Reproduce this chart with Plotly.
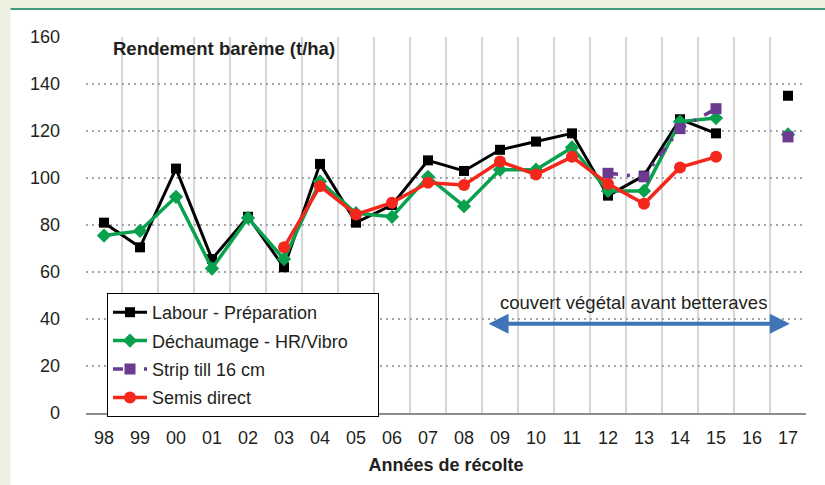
import plotly.graph_objects as go

years = ["98", "99", "00", "01", "02", "03", "04", "05", "06", "07",
         "08", "09", "10", "11", "12", "13", "14", "15", "16", "17"]

labour = [81, 70.5, 104, 65.5, 83.5, 62, 106, 81, 88.5, 107.5,
          103, 112, 115.5, 119, 92.5, 101, 125, 119, None, 135]
dechaumage = [75.5, 77.5, 92, 61.5, 83, 65.5, 98.5, 85, 83.5, 100.5,
              88, 103.5, 103.5, 113, 94.5, 94.5, 124, 125.5, None, 118.5]
strip_till = [None, None, None, None, None, None, None, None, None, None,
              None, None, None, None, 102, 100.5, 121, 129.5, None, 117.5]
semis_direct = [None, None, None, None, None, 70.5, 96.5, 84.5, 89.5, 98,
                97, 107, 101.5, 109, 97.5, 89, 104.5, 109, None, None]

y_ticks = [0, 20, 40, 60, 80, 100, 120, 140, 160]

FONT = "Liberation Sans, Arial, sans-serif"
TXT = "#231f20"
xs = list(range(len(years)))

fig = go.Figure()
fig.add_trace(go.Scatter(
    x=xs, y=labour, name="Labour - Préparation", mode="lines+markers",
    line=dict(color="#000000", width=3),
    marker=dict(symbol="square", size=10, color="#000000"),
    legendgroup="a"))
fig.add_trace(go.Scatter(
    x=xs, y=dechaumage, name="Déchaumage - HR/Vibro\u00a0\u00a0\u00a0\u00a0\u00a0", mode="lines+markers",
    line=dict(color="#0aa14e", width=3.5),
    marker=dict(symbol="diamond", size=11, color="#0aa14e"),
    legendgroup="b"))
fig.add_trace(go.Scatter(
    x=xs, y=strip_till, name="Strip till 16 cm", mode="lines+markers",
    line=dict(color="#6b3a91", width=3.5, dash="10px,9px,3px,9px"),
    marker=dict(symbol="square", size=11, color="#6b3a91"),
    legendgroup="c"))
fig.add_trace(go.Scatter(
    x=xs, y=semis_direct, name="Semis direct", mode="lines+markers",
    line=dict(color="#f4271c", width=3.5),
    marker=dict(symbol="circle", size=12, color="#f4271c"),
    legendgroup="d"))

L, R, T, B = 86, 19, 37, 72
W, H = 825, 485
pw, ph = W - L - R, H - T - B

def px(xp):
    return (xp - L) / pw

def py(yp):
    return (H - B - yp) / ph

shapes = [
    dict(type="rect", xref="paper", yref="paper", x0=px(0), x1=px(W), y0=py(9), y1=py(0),
         fillcolor="#eef1df", line=dict(width=0), layer="below"),
    dict(type="rect", xref="paper", yref="paper", x0=px(0), x1=px(10.5), y0=py(H), y1=py(0),
         fillcolor="#eef1df", line=dict(width=0), layer="below"),
    dict(type="line", xref="paper", yref="paper", x0=px(10.5), x1=px(W), y0=py(9), y1=py(9),
         line=dict(color="#3f9b7b", width=2)),
    dict(type="rect", xref="paper", yref="paper", x0=px(95), x1=px(755), y0=py(65), y1=py(35),
         fillcolor="white", line=dict(width=0), layer="between"),
]

annotations = [
    dict(text="<b>Rendement barème (t/ha)</b>", xref="paper", yref="paper",
         x=px(111), y=py(48), xanchor="left", yanchor="middle", showarrow=False,
         font=dict(family=FONT, size=18.5, color=TXT)),
    dict(text="couvert végétal avant betteraves", xref="x", yref="y",
         x=14.7, y=47.2, xanchor="center", yanchor="middle", showarrow=False,
         font=dict(family=FONT, size=18.5, color=TXT)),
    dict(text="", x=19.05, y=38, ax=10.64, ay=38, xref="x", yref="y",
         axref="x", ayref="y", showarrow=True, arrowhead=2, startarrowhead=2,
         arrowside="end+start", arrowwidth=4, arrowsize=1, startarrowsize=1,
         arrowcolor="#3f74b6", standoff=0, startstandoff=0),
]

fig.update_layout(
    width=W, height=H,
    margin=dict(l=L, r=R, t=T, b=B, autoexpand=False),
    paper_bgcolor="white", plot_bgcolor="white",
    font=dict(family=FONT, size=18, color=TXT),
    shapes=shapes, annotations=annotations,
    showlegend=True,
    legend=dict(x=px(107), y=py(293), xanchor="left", yanchor="top",
                bgcolor="white", bordercolor="#000000", borderwidth=1,
                font=dict(family=FONT, size=18, color=TXT),
                traceorder="grouped", tracegroupgap=2, itemwidth=34),
    xaxis=dict(range=[-0.5, 19.5], tickmode="array", tickvals=xs, ticktext=years,
               showgrid=False, zeroline=False, showline=True, automargin=False,
               linecolor="#8c8c8c", linewidth=1.5, ticks="",
               ticklabelstandoff=8,
               minor=dict(tickmode="array", tickvals=[i + 0.5 for i in range(19)],
                          showgrid=True, gridcolor="#d6d6d6", gridwidth=1.5),
               title=dict(text="<b>Années de récolte</b>", standoff=11,
                          font=dict(family=FONT, size=18, color=TXT)),
               fixedrange=True),
    yaxis=dict(range=[0, 160], tickmode="array", tickvals=y_ticks, automargin=False,
               showgrid=True, gridcolor="#a6a6a6", gridwidth=1.5, griddash="2px,4px",
               zeroline=False, showline=False, ticks="", ticklabelstandoff=25,
               fixedrange=True),
)

fig.write_html("out.html",
               config={"displayModeBar": False},
               post_script="document.body.style.margin='0';document.body.style.overflow='hidden';")
